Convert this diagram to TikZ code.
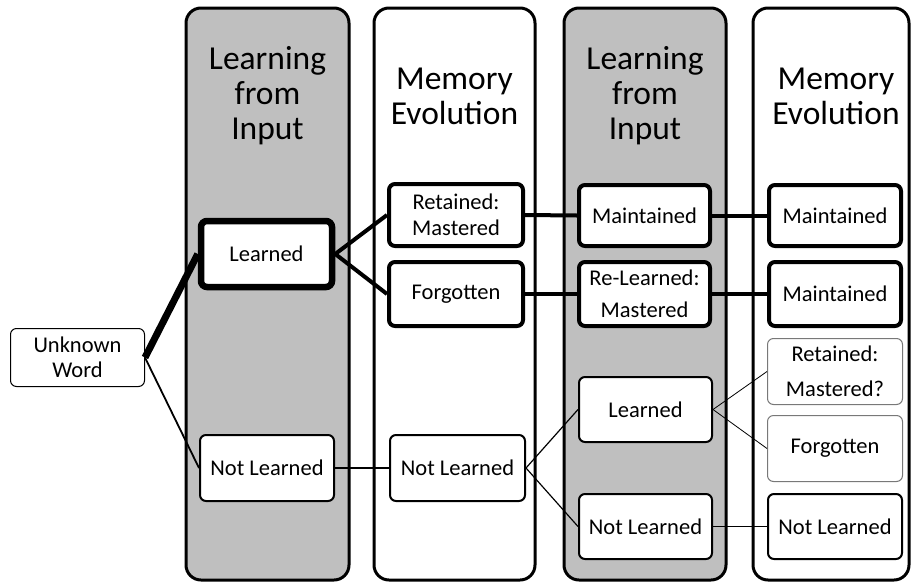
\documentclass[tikz,border=0pt]{standalone}
\usepackage{fontspec}
\setmainfont{Carlito}
\usepackage{tikz}
\usetikzlibrary{positioning}
\definecolor{colgray}{RGB}{191,191,191}
\definecolor{boxedge}{RGB}{120,120,120}

\tikzset{
  column/.style={draw=black,line width=3pt,rounded corners=15pt},
  header/.style={font=\fontsize{33.5}{35}\selectfont,align=center},
  box/.style={draw=black,fill=white,rounded corners=6pt,align=center,
    font=\fontsize{22.5}{25.5}\selectfont,inner sep=0pt},
  boxheavy/.style={box,line width=6.5pt},
  boxthick/.style={box,line width=4pt},
  boxmid/.style={box,line width=2pt},
  boxthin/.style={box,line width=1pt},
  boxlight/.style={box,draw=boxedge,line width=1pt},
  linkheavy/.style={line width=7pt},
  linkthick/.style={line width=4pt},
  linkmid/.style={line width=1.8pt},
  linkthin/.style={line width=1.2pt},
  linklight/.style={line width=0.8pt}
}

\begin{document}
\begin{tikzpicture}[x=1pt,y=-1pt]
  \useasboundingbox (0,0) rectangle (911,587);
  % phases
  \draw[column,fill=colgray] (186,8) rectangle (349,580);
  \draw[column,fill=white] (374,8) rectangle (535,580);
  \draw[column,fill=colgray] (564,8) rectangle (726,580);
  \draw[column,fill=white] (753,8) rectangle (909,580);
  \node[header] (h1) at (267.5,96) {Learning\\from\\Input};
  \node[header] (h2) at (454.5,96) {Memory\\Evolution};
  \node[header] (h3) at (645,96) {Learning\\from\\Input};
  \node[header] (h4) at (836,96) {Memory\\Evolution};

  % words
  \node[boxthin,minimum width=134pt,minimum height=58pt] (uw) at (77.5,357.5) {Unknown\\Word};
  \node[boxheavy,minimum width=131pt,minimum height=66pt] (l1) at (266.5,254) {Learned};
  \node[boxmid,minimum width=134pt,minimum height=66pt] (n1) at (267,468) {Not Learned};
  \node[boxthick,minimum width=134pt,minimum height=62pt] (r2) at (456,215) {Retained:\\Mastered};
  \node[boxthick,minimum width=134pt,minimum height=64pt] (f2) at (456,294) {Forgotten};
  \node[boxmid,minimum width=135pt,minimum height=66pt] (n2) at (457.5,468) {Not Learned};
  \node[boxthick,minimum width=131pt,minimum height=61pt] (m3) at (644.5,215.5) {Maintained};
  \node[boxthick,minimum width=131pt,minimum height=64pt] (rl3) at (644.5,294) {Re-Learned:\\[7pt]Mastered};
  \node[boxmid,minimum width=133pt,minimum height=65pt] (l3) at (645.5,409.5) {Learned};
  \node[boxmid,minimum width=133pt,minimum height=65pt] (n3) at (645.5,526.5) {Not Learned};
  \node[boxthick,minimum width=132pt,minimum height=61pt] (m4) at (835,215.5) {Maintained};
  \node[boxthick,minimum width=132pt,minimum height=64pt] (mm4) at (835,294) {Maintained};
  \node[boxlight,minimum width=135pt,minimum height=66pt] (r4) at (835,371.5) {Retained:\\[10pt]Mastered?};
  \node[boxlight,minimum width=135pt,minimum height=66pt] (f4) at (835,448.5) {Forgotten};
  \node[boxmid,minimum width=134pt,minimum height=65pt] (n4) at (835,526.5) {Not Learned};

  % links
  \draw[linkheavy] (uw.east) -- (l1.west);
  \draw[linkmid] (uw.east) -- (n1.west);
  \draw[linkthick] (l1.east) -- (r2.west);
  \draw[linkthick] (l1.east) -- (f2.west);
  \draw[linkthick] (r2.east) -- (m3.west);
  \draw[linkthick] (f2.east) -- (rl3.west);
  \draw[linkthick] (m3.east) -- (m4.west);
  \draw[linkthick] (rl3.east) -- (mm4.west);
  \draw[linkmid] (n1.east) -- (n2.west);
  \draw[linkthin] (n2.east) -- (l3.west);
  \draw[linkthin] (n2.east) -- (n3.west);
  \draw[linklight] (l3.east) -- (r4.west);
  \draw[linklight] (l3.east) -- (f4.west);
  \draw[linkthin] (n3.east) -- (n4.west);
\end{tikzpicture}
\end{document}
